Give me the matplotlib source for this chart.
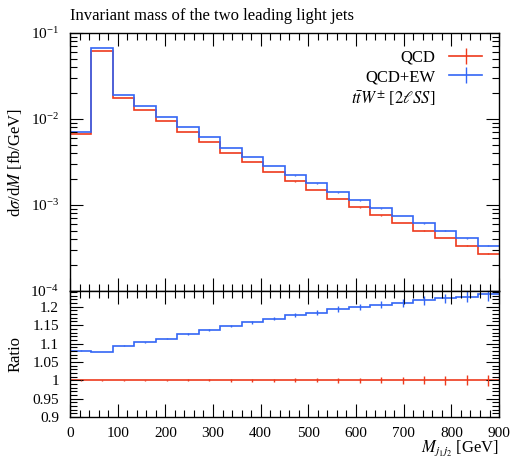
import numpy as np
import matplotlib
matplotlib.use("Agg")
import matplotlib.pyplot as plt
from matplotlib.lines import Line2D
from matplotlib.ticker import MultipleLocator, LogLocator, NullFormatter, FormatStrFormatter

plt.rcParams['font.family'] = ['Liberation Serif', 'DejaVu Serif']
plt.rcParams['mathtext.fontset'] = 'stix'

# bin edges in GeV
edges = np.arange(0, 901, 45)

# dsigma/dM [fb/GeV]
qcd = [0.00662, 0.0624, 0.01747, 0.01274, 0.00949, 0.00711, 0.00538, 0.00404,
       0.00314, 0.00242, 0.00188, 0.00150, 0.00117, 0.000942, 0.00076, 0.000618,
       0.000503, 0.000413, 0.000336, 0.000273]
qcd_ew = [0.00715, 0.0672, 0.0191, 0.01406, 0.01057, 0.00800, 0.00612, 0.00464,
          0.00364, 0.00283, 0.00221, 0.00178, 0.00140, 0.00113, 0.000916, 0.000748,
          0.000612, 0.000505, 0.000412, 0.000337]
ratio_ew = [1.080, 1.077, 1.0945, 1.1036, 1.1136, 1.1255, 1.137, 1.148, 1.158, 1.168,
            1.178, 1.1836, 1.1945, 1.200, 1.2055, 1.210, 1.2173, 1.2227, 1.227, 1.2336]
rel_err = [0.0015, 0.0012, 0.0015, 0.0017, 0.002, 0.0027, 0.003, 0.0035, 0.004, 0.0045,
           0.005, 0.006, 0.0068, 0.0075, 0.0085, 0.0095, 0.0105, 0.012, 0.0135, 0.0155]

red = '#ee3a1c'
blue = '#3366f5'

qcd = np.array(qcd)
qcd_ew = np.array(qcd_ew)
ratio_ew = np.array(ratio_ew)
rel_err = np.array(rel_err)
centers = 0.5 * (edges[:-1] + edges[1:])

fig = plt.figure(figsize=(5.12, 4.59), dpi=100)
ax = fig.add_axes([0.1367, 0.366, 0.838, 0.562])
rax = fig.add_axes([0.1367, 0.0915, 0.838, 0.2745])

lw = 1.2
# main panel
ax.stairs(qcd, edges, color=red, lw=lw, baseline=None)
ax.stairs(qcd_ew, edges, color=blue, lw=lw, baseline=None)
ax.errorbar(centers, qcd, yerr=qcd * rel_err, fmt='none', ecolor=red, elinewidth=1)
ax.errorbar(centers, qcd_ew, yerr=qcd_ew * rel_err, fmt='none', ecolor=blue, elinewidth=1)
ax.set_yscale('log')
ax.set_ylim(1e-4, 1e-1)
ax.set_xlim(0, 900)

# ratio panel
rax.stairs(np.ones_like(qcd), edges, color=red, lw=lw, baseline=None)
rax.stairs(ratio_ew, edges, color=blue, lw=lw, baseline=None)
rax.errorbar(centers, np.ones_like(qcd), yerr=rel_err, fmt='none', ecolor=red, elinewidth=1)
rax.errorbar(centers, ratio_ew, yerr=ratio_ew * rel_err * 0.9, fmt='none', ecolor=blue, elinewidth=1)
rax.set_xlim(0, 900)
rax.set_ylim(0.9, 1.243)

for a in (ax, rax):
    a.tick_params(which='both', direction='in', top=True, right=True, labelsize=11)
    a.tick_params(which='major', length=9.5, width=0.8)
    a.tick_params(which='minor', length=4.7, width=0.8)
    a.tick_params(axis='y', which='major', pad=8)
    a.tick_params(axis='x', which='major', pad=7)
    a.xaxis.set_major_locator(MultipleLocator(100))
    a.xaxis.set_minor_locator(MultipleLocator(20))
    for s in a.spines.values():
        s.set_linewidth(1.0)

ax.yaxis.set_major_locator(LogLocator(base=10, numticks=10))
ax.yaxis.set_minor_locator(LogLocator(base=10, subs=np.arange(2, 10), numticks=20))
ax.yaxis.set_minor_formatter(NullFormatter())
ax.tick_params(labelbottom=False)

rax.yaxis.set_major_locator(MultipleLocator(0.05))
rax.yaxis.set_minor_locator(MultipleLocator(0.01))
rax.yaxis.set_major_formatter(FormatStrFormatter('%g'))

ax.set_ylabel(r'd$\sigma$/d$M$ [fb/GeV]', fontsize=12)
ax.yaxis.set_label_coords(-0.108, 0.5)
rax.set_ylabel('Ratio', fontsize=12)
rax.yaxis.set_label_coords(-0.108, 0.5)
rax.set_xlabel(r'$M_{j_1 j_2}$ [GeV]', fontsize=12, loc='right')
rax.xaxis.set_label_coords(1.0, -0.17)

fig.text(0.1367, 0.965, 'Invariant mass of the two leading light jets', fontsize=12,
         ha='left', va='center')

handles = [Line2D([], [], color=red, lw=1.2, marker='|', markersize=12, markeredgewidth=1),
           Line2D([], [], color=blue, lw=1.2, marker='|', markersize=12, markeredgewidth=1),
           Line2D([], [], color='none')]
labels = ['QCD', 'QCD+EW', r'$t\bar{t}W^{\pm}$ [$2\ell SS$]']
leg = ax.legend(handles, labels, loc='upper right', frameon=False, markerfirst=False,
                fontsize=12, handlelength=2.0, borderaxespad=0.6, labelspacing=0.2)
for t in leg.get_texts():
    t.set_ha('right')

fig.savefig('out.png', dpi=100)
